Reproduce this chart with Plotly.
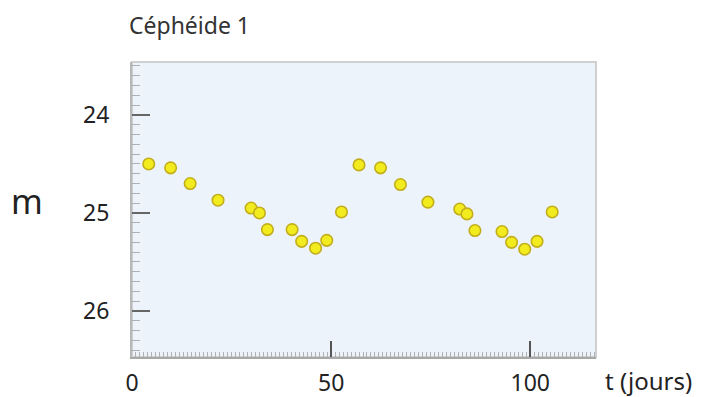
import plotly.graph_objects as go

# Data
t_jours = [4.2, 9.7, 14.6, 21.6, 29.9, 32.0, 34.0, 40.2, 42.6, 46.1, 48.9, 52.6,
           57.0, 62.4, 67.4, 74.3, 82.3, 84.1, 86.1, 92.9, 95.3, 98.6, 101.7, 105.5]
magnitude = [24.50, 24.54, 24.70, 24.87, 24.95, 25.00, 25.17, 25.17, 25.29, 25.36, 25.28, 24.99,
             24.51, 24.54, 24.71, 24.89, 24.96, 25.01, 25.18, 25.19, 25.30, 25.37, 25.29, 24.99]
x_tick_values = [0, 50, 100]
x_tick_labels = ["0", "50", "100"]
y_tick_values = [24, 25, 26]
y_tick_labels = ["24", "25", "26"]
title_text = "Céphéide 1"
x_label = "t (jours)"
y_label = "m"

FONT = "Noto Sans"
TXT = "#222222"

fig = go.Figure()
fig.add_trace(go.Scatter(
    x=t_jours, y=magnitude, mode="markers",
    marker=dict(size=11.5, color="#F2EC1E", line=dict(color="#C2AE1A", width=1.6)),
    hoverinfo="x+y", showlegend=False,
))

xr = [0, 116.5]
yr = [26.47, 23.46]

# the page body adds an 8px margin, so the figure is 8px smaller than the window
fig.update_layout(
    width=708, height=389,
    margin=dict(l=124, r=120, t=54, b=40, autoexpand=False),
    paper_bgcolor="white",
    plot_bgcolor="#EDF3FB",
    font=dict(family=FONT, color=TXT, size=23),
    xaxis=dict(
        range=xr, tickmode="array", tickvals=x_tick_values, ticktext=x_tick_labels,
        ticks="inside", ticklen=16, tickwidth=1.5, tickcolor="#555",
        minor=dict(ticks="inside", dtick=1, tick0=0, ticklen=5, tickcolor="#b0b0b0", tickwidth=1),
        showline=True, linecolor="#a8a8a8", linewidth=2,
        showgrid=False, zeroline=False, ticklabelstandoff=4, automargin=False,
        tickfont=dict(size=23, color=TXT, family=FONT),
    ),
    xaxis2=dict(
        range=xr, overlaying="x", anchor="y", side="bottom",
        tickmode="array", tickvals=[10, 20, 30, 40, 60, 70, 80, 90, 110],
        ticks="inside", ticklen=13, tickcolor="#b5b5b5", tickwidth=1,
        showticklabels=False, showline=False, showgrid=False, zeroline=False,
        automargin=False,
    ),
    yaxis=dict(
        range=yr, tickmode="array", tickvals=y_tick_values, ticktext=y_tick_labels,
        ticks="inside", ticklen=18, tickwidth=1.5, tickcolor="#666",
        minor=dict(ticks="inside", dtick=0.1, tick0=24, ticklen=8, tickcolor="#b0b0b0", tickwidth=1),
        showline=True, linecolor="#b8b8b8", linewidth=2,
        showgrid=False, zeroline=False, ticklabelstandoff=16, automargin=False,
        tickfont=dict(size=23, color=TXT, family=FONT),
    ),
    shapes=[dict(type="rect", xref="paper", yref="paper", x0=0, x1=1, y0=0, y1=1,
                 line=dict(color="#cfcfcf", width=2), layer="below")],
    annotations=[
        dict(text=title_text, xref="paper", yref="paper", x=-0.0097, y=1.125,
             xanchor="left", yanchor="middle", showarrow=False,
             font=dict(size=23, color="#333", family=FONT)),
        dict(text=y_label, xref="paper", yref="paper", x=-0.2255, y=0.53,
             xanchor="center", yanchor="middle", showarrow=False,
             font=dict(size=34, color=TXT, family=FONT)),
        dict(text=x_label, xref="paper", yref="paper", x=1.017, y=-0.078,
             xanchor="left", yanchor="middle", showarrow=False, borderpad=0,
             font=dict(size=24, color=TXT, family=FONT)),
    ],
)

fig.write_html("out.html")
